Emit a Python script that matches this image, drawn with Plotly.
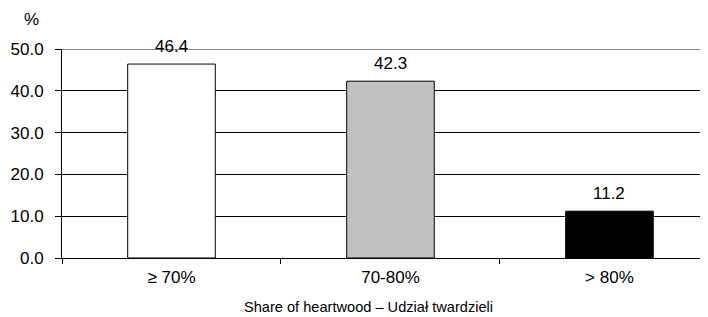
import plotly.graph_objects as go

categories = ["≥ 70%", "70-80%", "> 80%"]
values = [46.4, 42.3, 11.2]
bar_colors = ["#ffffff", "#c0c0c0", "#000000"]
y_ticks = [0, 10, 20, 30, 40, 50]
y_tick_labels = ["0.0", "10.0", "20.0", "30.0", "40.0", "50.0"]
x_title = "Share of heartwood – Udział twardzieli"
y_unit = "%"

FONT = "Liberation Sans, Arial, sans-serif"
FS = 17

fig = go.Figure()
fig.add_trace(go.Bar(
    x=categories, y=values,
    marker=dict(color=bar_colors, line=dict(color="#000000", width=1)),
    width=0.4,
))

# value labels above the bars
for c, v in zip(categories, values):
    fig.add_annotation(x=c, y=v, xref="x", yref="y", text=f"{v:.1f}",
                       showarrow=False, xanchor="center", yanchor="middle",
                       yshift=18, font=dict(family=FONT, size=FS, color="#000000"))

# page body has an 8px margin, so the figure is sized to fill the remaining window
fig.update_layout(
    width=700, height=309,
    margin=dict(l=54, r=0, t=41, b=59),
    paper_bgcolor="white", plot_bgcolor="white",
    showlegend=False,
    font=dict(family=FONT, size=FS, color="#000000"),
)
fig.update_xaxes(
    range=[-0.5, 2.45],
    showline=True, linecolor="#000000", linewidth=1,
    ticks="outside", tickson="boundaries", ticklen=5, tickcolor="#000000",
    ticklabelstandoff=4,
    showgrid=False,
    tickfont=dict(family=FONT, size=FS, color="#000000"),
)
fig.update_yaxes(
    range=[0, 50],
    tickvals=y_ticks, ticktext=y_tick_labels,
    showline=True, linecolor="#000000", linewidth=1,
    ticks="outside", ticklen=6, tickcolor="#000000",
    ticklabelstandoff=8,
    showgrid=True, gridcolor="#000000", gridwidth=1,
    zeroline=False,
    tickfont=dict(family=FONT, size=FS, color="#000000"),
)
# top border line in gray
fig.add_shape(type="line", xref="paper", yref="y", x0=0, x1=1, y0=50, y1=50,
              line=dict(color="#858585", width=2), layer="below")
fig.add_annotation(text=y_unit, xref="paper", yref="paper", x=-0.0472, y=1.0,
                   yshift=30, showarrow=False, xanchor="center", yanchor="middle",
                   font=dict(family=FONT, size=FS, color="#000000"))
fig.add_annotation(text=x_title, xref="paper", yref="paper", x=0.4737, y=0,
                   yshift=-49, showarrow=False, xanchor="center", yanchor="middle",
                   font=dict(family=FONT, size=14.6, color="#000000"))

fig.write_html("out.html")
